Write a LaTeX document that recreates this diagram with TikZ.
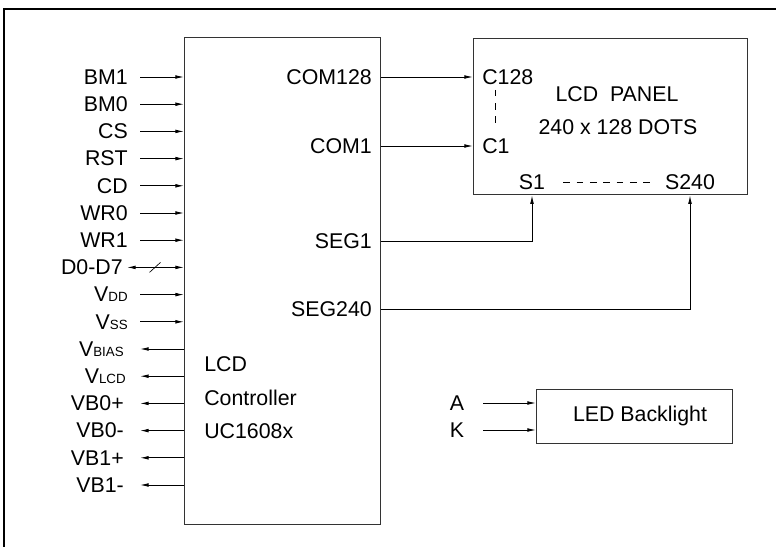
\documentclass[tikz,border=0pt]{standalone}
\usepackage{fontspec}
\setmainfont{Liberation Sans}
\usetikzlibrary{arrows.meta,positioning,calc}
\newcommand{\pinsub}[1]{{\fontsize{10}{12}\selectfont #1}}

\begin{document}
\begin{tikzpicture}[
  x=0.75pt, y=-0.75pt,
  font=\fontsize{16}{19}\selectfont,
  blk/.style={draw=black!80, line width=0.9pt, inner sep=0pt},
  lbl/.style={inner sep=0pt},
  pin/.style={-{Latex[length=6.5pt,width=2.8pt]}, line width=0.65pt},
  bipin/.style={{Latex[length=6.5pt,width=2.8pt]}-{Latex[length=6.5pt,width=2.8pt]}, line width=0.65pt},
  dashline/.style={dash pattern=on 5pt off 5pt, line width=0.65pt}
]
\useasboundingbox (0,0) rectangle (776,547);
\draw[line width=0.9pt] (4,547) -- (4,9) -- (776,9);

% ── Blocks ──────────────────────────────────────────────────────────────
\node[blk, minimum width=147pt, minimum height=365pt, anchor=north west] (ctrl) at (184,37) {};
\node[blk, minimum width=205.5pt, minimum height=117pt, anchor=north west] (lcd) at (473,38) {};
\node[blk, minimum width=147pt, minimum height=40.5pt, anchor=north west] (led) at (536,389) {};
\node[lbl] (ledtxt) at (640,416) {LED Backlight};

\node[lbl, anchor=base west] (ctxt1) at (204,371) {LCD};
\node[lbl, anchor=base west] (ctxt2) at (204,405) {Controller};
\node[lbl, anchor=base west] (ctxt3) at (204,438) {UC1608x};

% ── Controller pins, left side ──────────────────────────────────────────
\node[lbl, anchor=east] (bm1) at (128,77) {BM1};
\node[lbl, anchor=east] (bm0) at (128,104.2) {BM0};
\node[lbl, anchor=east] (cs) at (128,131.4) {CS};
\node[lbl, anchor=east] (rst) at (128,158.6) {RST};
\node[lbl, anchor=east] (cd) at (128,185.8) {CD};
\node[lbl, anchor=east] (wr0) at (128,213) {WR0};
\node[lbl, anchor=east] (wr1) at (128,240.2) {WR1};
\node[lbl, anchor=east] (dbus) at (123,267.4) {D0-D7};
\node[lbl, anchor=east] (vdd) at (128,294.6) {V\pinsub{DD}};
\node[lbl, anchor=east] (vss) at (128,321.8) {V\pinsub{SS}};
\node[lbl, anchor=east] (vbias) at (124,349) {V\pinsub{BIAS}};
\node[lbl, anchor=east] (vlcd) at (126,376.2) {V\pinsub{LCD}};
\node[lbl, anchor=east] (vb0p) at (124,403.4) {VB0+};
\node[lbl, anchor=east] (vb0m) at (124,430.6) {VB0-};
\node[lbl, anchor=east] (vb1p) at (124,457.8) {VB1+};
\node[lbl, anchor=east] (vb1m) at (124,485) {VB1-};

\draw[pin] ([xshift=9pt]bm1.east) -- (ctrl.west |- bm1);
\draw[pin] ([xshift=9pt]bm0.east) -- (ctrl.west |- bm0);
\draw[pin] ([xshift=9pt]cs.east) -- (ctrl.west |- cs);
\draw[pin] ([xshift=9pt]rst.east) -- (ctrl.west |- rst);
\draw[pin] ([xshift=9pt]cd.east) -- (ctrl.west |- cd);
\draw[pin] ([xshift=9pt]wr0.east) -- (ctrl.west |- wr0);
\draw[pin] ([xshift=9pt]wr1.east) -- (ctrl.west |- wr1);
\draw[bipin] ([xshift=3pt]dbus.east) -- (ctrl.west |- dbus);
\coordinate (bus) at (155,267.4);
\draw[line width=0.5pt] ($(bus)+(-5.5,5)$) -- ($(bus)+(5.5,-5)$);
\draw[pin] ([xshift=9pt]vdd.east) -- (ctrl.west |- vdd);
\draw[pin] ([xshift=9pt]vss.east) -- (ctrl.west |- vss);
\draw[pin] (ctrl.west |- vbias) -- (140,0 |- vbias);
\draw[pin] (ctrl.west |- vlcd) -- (140,0 |- vlcd);
\draw[pin] (ctrl.west |- vb0p) -- (140,0 |- vb0p);
\draw[pin] (ctrl.west |- vb0m) -- (140,0 |- vb0m);
\draw[pin] (ctrl.west |- vb1p) -- (140,0 |- vb1p);
\draw[pin] (ctrl.west |- vb1m) -- (140,0 |- vb1m);

% ── Controller outputs to the panel ─────────────────────────────────────
\node[lbl, anchor=east] (com128) at (372,77) {COM128};
\node[lbl, anchor=east] (com1) at (372,146) {COM1};
\node[lbl, anchor=east] (seg1) at (372,241) {SEG1};
\node[lbl, anchor=east] (seg240) at (372,309) {SEG240};

\node[lbl, anchor=west] (c128) at (482,77) {C128};
\node[lbl, anchor=west] (c1) at (482,146) {C1};
\node[lbl] (s1) at (532,182) {S1};
\node[lbl] (s240) at (690,182) {S240};
\node[lbl] (ttl) at (617,94) {LCD\ \ PANEL};
\node[lbl] (dots) at (618,127) {240 x 128 DOTS};
\draw[dashline] ($(c128.south west)+(13,5)$) -- ($(c1.north west)+(13,-14)$);
\draw[dashline] ([xshift=13.5pt]s1.east) -- ([xshift=-11.25pt]s240.west);

\draw[pin] (ctrl.east |- com128) -- (lcd.west |- com128);
\draw[pin] (ctrl.east |- com1) -- (lcd.west |- com1);
\draw[pin] (ctrl.east |- seg1) -| (s1 |- lcd.south);
\draw[pin] (ctrl.east |- seg240) -| (s240 |- lcd.south);

% ── Backlight ───────────────────────────────────────────────────────────
\node[lbl] (pa) at (457,403) {A};
\node[lbl] (pk) at (457,430) {K};
\draw[pin] ([xshift=14pt]pa.east) -- (led.west |- pa);
\draw[pin] ([xshift=14pt]pk.east) -- (led.west |- pk);

\end{tikzpicture}
\end{document}
